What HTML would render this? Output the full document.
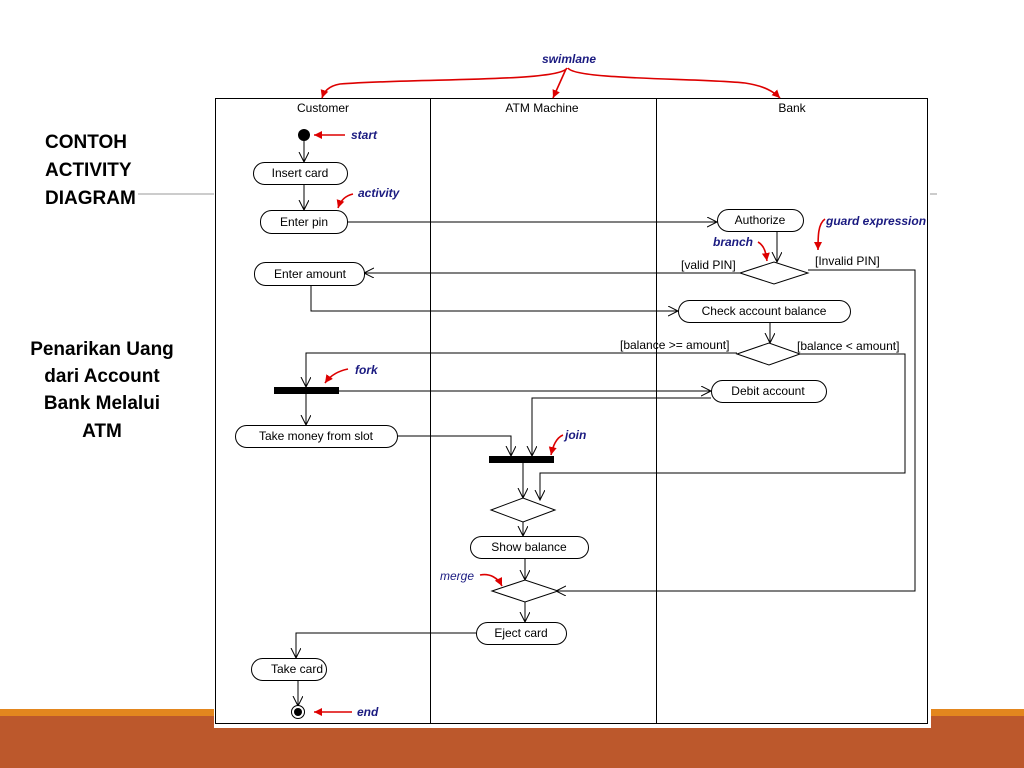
<!DOCTYPE html>
<html><head><meta charset="utf-8"><style>
html,body{margin:0;padding:0;width:1024px;height:768px;overflow:hidden;background:#fff}
svg{display:block}
.t{font-family:"Liberation Sans",sans-serif;font-size:12px;fill:#000}
.b{font-family:"Liberation Sans",sans-serif;font-size:19px;font-weight:bold;fill:#000}
.a{font-family:"Liberation Sans",sans-serif;font-size:12px;font-style:italic;font-weight:bold;fill:#1a1a80}
.n{fill:#fff;stroke:#000;stroke-width:1}
.l{fill:none;stroke:#000;stroke-width:1}
.r{fill:none;stroke:#d00;stroke-width:1.6}
</style></head><body>
<svg width="1024" height="768" viewBox="0 0 1024 768" xmlns="http://www.w3.org/2000/svg">
<defs>
<marker id="v" markerWidth="12" markerHeight="12" refX="10" refY="5" orient="auto" markerUnits="userSpaceOnUse">
<path d="M0,0 L10,5 L0,10" fill="none" stroke="#000" stroke-width="1"/></marker>
<marker id="rv" markerWidth="10" markerHeight="10" refX="8" refY="4" orient="auto" markerUnits="userSpaceOnUse">
<path d="M0,0 L8,4 L0,8 Z" fill="#d00"/></marker>
</defs>
<rect x="0" y="709" width="1024" height="7" fill="#e3861e"/>
<rect x="0" y="716" width="1024" height="52" fill="#bc582c"/>
<rect x="214" y="96" width="717" height="632" fill="#fff"/>
<line x1="138" y1="194" x2="214" y2="194" stroke="#999"/>
<line x1="930" y1="194" x2="937" y2="194" stroke="#999"/>
<text class="b" x="45" y="148">CONTOH</text>
<text class="b" x="45" y="176">ACTIVITY</text>
<text class="b" x="45" y="204">DIAGRAM</text>
<g text-anchor="middle">
<text class="b" x="102" y="355">Penarikan Uang</text>
<text class="b" x="102" y="382">dari Account</text>
<text class="b" x="102" y="409">Bank Melalui</text>
<text class="b" x="102" y="437">ATM</text>
</g>
<rect x="215.5" y="98.5" width="712" height="625" class="l"/>
<line x1="430.5" y1="98" x2="430.5" y2="724" stroke="#000"/>
<line x1="656.5" y1="98" x2="656.5" y2="724" stroke="#000"/>
<g text-anchor="middle">
<text class="t" x="323" y="112">Customer</text>
<text class="t" x="542" y="112">ATM Machine</text>
<text class="t" x="792" y="112">Bank</text>
</g>
<g class="l">
<path d="M304,141 V162" marker-end="url(#v)"/>
<path d="M304,184 V210" marker-end="url(#v)"/>
<path d="M347,222 H717" marker-end="url(#v)"/>
<path d="M777,231 V262" marker-end="url(#v)"/>
<path d="M740,273 H364" marker-end="url(#v)"/>
<path d="M808,270 H915 V591 H556" marker-end="url(#v)"/>
<path d="M311,285 V311 H678" marker-end="url(#v)"/>
<path d="M770,322 V343" marker-end="url(#v)"/>
<path d="M737,353 H306 V387" marker-end="url(#v)"/>
<path d="M800,354 H905 V473 H540 V500" marker-end="url(#v)"/>
<path d="M339,391 H711" marker-end="url(#v)"/>
<path d="M306,393 V425" marker-end="url(#v)"/>
<path d="M711,398 H532 V456" marker-end="url(#v)"/>
<path d="M397,436 H511 V456" marker-end="url(#v)"/>
<path d="M523,462 V498" marker-end="url(#v)"/>
<path d="M523,522 V536" marker-end="url(#v)"/>
<path d="M525,558 V580" marker-end="url(#v)"/>
<path d="M525,602 V622" marker-end="url(#v)"/>
<path d="M476,633 H296 V658" marker-end="url(#v)"/>
<path d="M298,680 V706" marker-end="url(#v)"/>
</g>
<circle cx="304" cy="135" r="6" fill="#000"/>
<rect class="n" x="253.5" y="162.5" width="94" height="22" rx="11"/>
<rect class="n" x="260.5" y="210.5" width="87" height="23" rx="11"/>
<rect class="n" x="717.5" y="209.5" width="86" height="22" rx="11"/>
<rect class="n" x="254.5" y="262.5" width="110" height="23" rx="11"/>
<polygon class="n" points="740,273 774,262 808,273 774,284"/>
<rect class="n" x="678.5" y="300.5" width="172" height="22" rx="11"/>
<polygon class="n" points="737,354 769,343 800,354 769,365"/>
<rect x="274" y="387" width="65" height="7" fill="#000"/>
<rect class="n" x="711.5" y="380.5" width="115" height="22" rx="11"/>
<rect class="n" x="235.5" y="425.5" width="162" height="22" rx="11"/>
<rect x="489" y="456" width="65" height="7" fill="#000"/>
<polygon class="n" points="491,510 523,498 555,510 523,522"/>
<rect class="n" x="470.5" y="536.5" width="118" height="22" rx="11"/>
<polygon class="n" points="492,591 525,580 558,591 525,602"/>
<rect class="n" x="476.5" y="622.5" width="90" height="22" rx="11"/>
<rect class="n" x="251.5" y="658.5" width="75" height="22" rx="11"/>
<circle cx="298" cy="712" r="6.5" fill="#fff" stroke="#000"/>
<circle cx="298" cy="712" r="4" fill="#000"/>
<g text-anchor="middle">
<text class="t" x="300" y="177">Insert card</text>
<text class="t" x="304" y="226">Enter pin</text>
<text class="t" x="760" y="224">Authorize</text>
<text class="t" x="310" y="278">Enter amount</text>
<text class="t" x="764" y="315">Check account balance</text>
<text class="t" x="768" y="395">Debit account</text>
<text class="t" x="316" y="440">Take money from slot</text>
<text class="t" x="529" y="551">Show balance</text>
<text class="t" x="521" y="637">Eject card</text>
<text class="t" x="297" y="673">Take card</text>
</g>
<text class="t" x="681" y="269">[valid PIN]</text>
<text class="t" x="815" y="265">[Invalid PIN]</text>
<text class="t" x="620" y="349">[balance &gt;= amount]</text>
<text class="t" x="797" y="350">[balance &lt; amount]</text>
<text class="a" x="542" y="63">swimlane</text>
<path class="r" d="M567,68 C560,82 420,78 340,84 C328,86 324,92 322,98" marker-end="url(#rv)"/>
<path class="r" d="M566,69 L553,98" marker-end="url(#rv)"/>
<path class="r" d="M568,68 C575,80 700,78 745,83 C765,86 774,92 780,98" marker-end="url(#rv)"/>
<text class="a" x="351" y="139">start</text>
<path class="r" d="M345,135 H314" marker-end="url(#rv)"/>
<text class="a" x="358" y="197">activity</text>
<path class="r" d="M353,194 C344,196 340,202 338,208" marker-end="url(#rv)"/>
<text class="a" x="826" y="225">guard expression</text>
<path class="r" d="M825,219 C818,224 818,236 818,250" marker-end="url(#rv)"/>
<text class="a" x="713" y="246">branch</text>
<path class="r" d="M758,242 C765,246 766,254 767,261" marker-end="url(#rv)"/>
<text class="a" x="355" y="374">fork</text>
<path class="r" d="M348,369 C338,371 330,376 325,383" marker-end="url(#rv)"/>
<text class="a" x="565" y="439">join</text>
<path class="r" d="M563,435 C556,438 553,446 551,455" marker-end="url(#rv)"/>
<text class="a" x="440" y="580" style="font-weight:normal">merge</text>
<path class="r" d="M480,575 C490,573 498,578 502,586" marker-end="url(#rv)"/>
<text class="a" x="357" y="716">end</text>
<path class="r" d="M352,712 H314" marker-end="url(#rv)"/>
</svg>
</body></html>
